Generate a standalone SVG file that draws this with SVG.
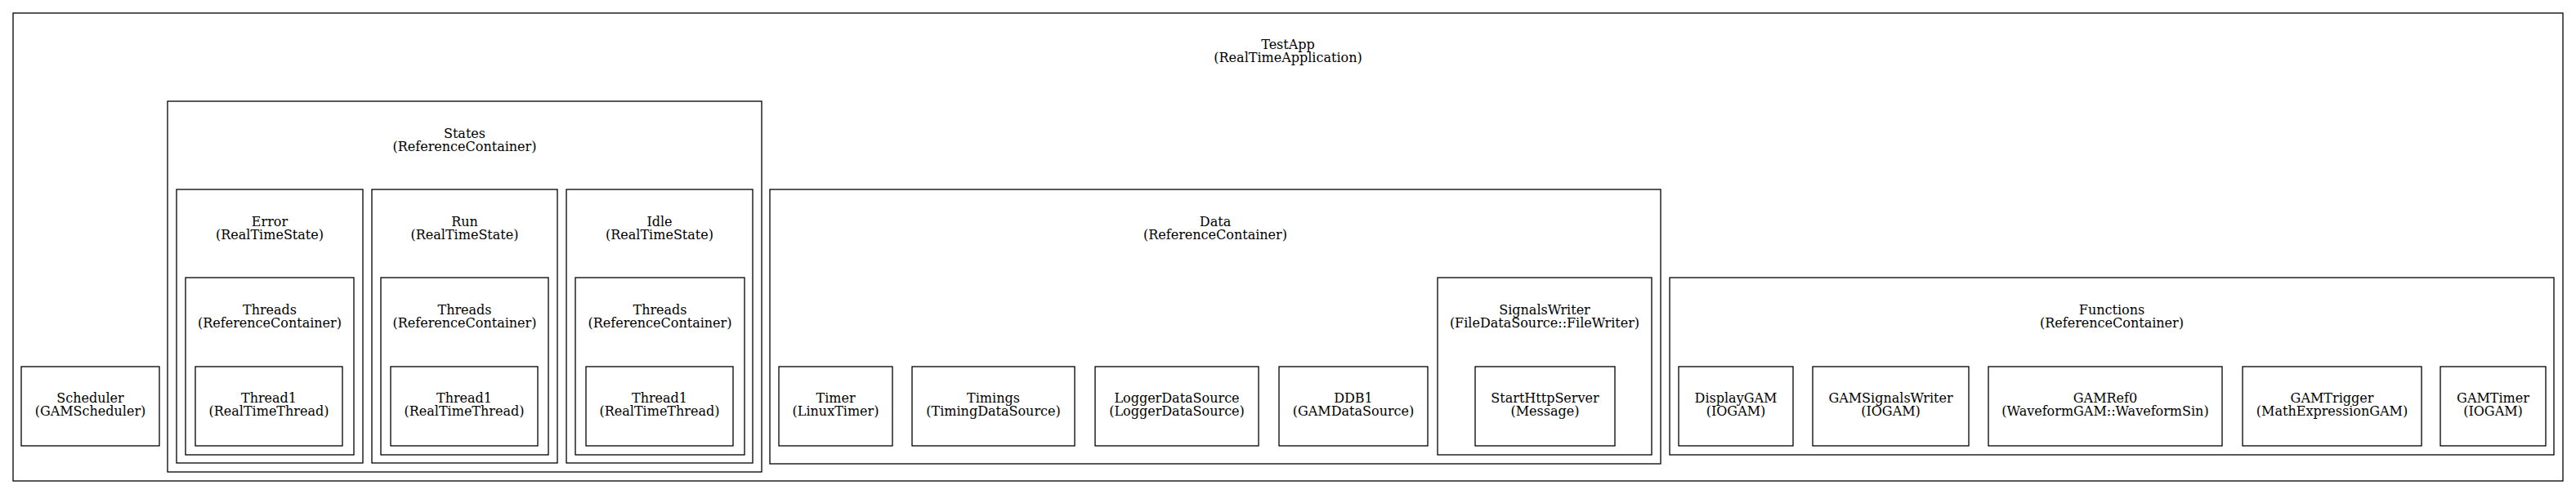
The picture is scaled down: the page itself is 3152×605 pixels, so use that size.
<svg xmlns="http://www.w3.org/2000/svg" width="3152" height="605" viewBox="0 0 3152 605">
<style>
rect{fill:none;stroke:#000;stroke-width:1.3}
text{font-family:"DejaVu Serif","Liberation Serif",serif;font-size:16px;fill:#000;text-anchor:middle}
</style>
<rect x="0" y="0" width="3152" height="605" style="fill:#fff;stroke:none"/>
<g id="TestApp">
<rect x="16" y="16" width="3120" height="573"/>
<text x="1576" y="60">TestApp</text><text x="1576" y="76">(RealTimeApplication)</text>
</g>
<g id="Scheduler">
<rect x="26" y="449" width="169" height="97"/>
<text x="110.5" y="493">Scheduler</text><text x="110.5" y="509">(GAMScheduler)</text>
</g>
<g id="States">
<rect x="205" y="124" width="727" height="454"/>
<text x="568.5" y="169">States</text><text x="568.5" y="185">(ReferenceContainer)</text>
</g>
<g id="Error">
<rect x="216" y="232" width="228" height="335"/>
<text x="330" y="277">Error</text><text x="330" y="293">(RealTimeState)</text>
</g>
<g id="Error_Threads">
<rect x="227" y="340" width="206" height="217"/>
<text x="330" y="385">Threads</text><text x="330" y="401">(ReferenceContainer)</text>
</g>
<g id="Error_Thread1">
<rect x="239" y="449" width="180" height="97"/>
<text x="329" y="493">Thread1</text><text x="329" y="509">(RealTimeThread)</text>
</g>
<g id="Run">
<rect x="455" y="232" width="227" height="335"/>
<text x="568.5" y="277">Run</text><text x="568.5" y="293">(RealTimeState)</text>
</g>
<g id="Run_Threads">
<rect x="466" y="340" width="205" height="217"/>
<text x="568.5" y="385">Threads</text><text x="568.5" y="401">(ReferenceContainer)</text>
</g>
<g id="Run_Thread1">
<rect x="478" y="449" width="180" height="97"/>
<text x="568" y="493">Thread1</text><text x="568" y="509">(RealTimeThread)</text>
</g>
<g id="Idle">
<rect x="693" y="232" width="228" height="335"/>
<text x="807" y="277">Idle</text><text x="807" y="293">(RealTimeState)</text>
</g>
<g id="Idle_Threads">
<rect x="704" y="340" width="207" height="217"/>
<text x="807.5" y="385">Threads</text><text x="807.5" y="401">(ReferenceContainer)</text>
</g>
<g id="Idle_Thread1">
<rect x="717" y="449" width="180" height="97"/>
<text x="807" y="493">Thread1</text><text x="807" y="509">(RealTimeThread)</text>
</g>
<g id="Data">
<rect x="942" y="232" width="1090" height="336"/>
<text x="1487" y="277">Data</text><text x="1487" y="293">(ReferenceContainer)</text>
</g>
<g id="Timer">
<rect x="953" y="449" width="139" height="97"/>
<text x="1022.5" y="493">Timer</text><text x="1022.5" y="509">(LinuxTimer)</text>
</g>
<g id="Timings">
<rect x="1116" y="449" width="199" height="97"/>
<text x="1215.5" y="493">Timings</text><text x="1215.5" y="509">(TimingDataSource)</text>
</g>
<g id="LoggerDataSource">
<rect x="1340" y="449" width="200" height="97"/>
<text x="1440" y="493">LoggerDataSource</text><text x="1440" y="509">(LoggerDataSource)</text>
</g>
<g id="DDB1">
<rect x="1565" y="449" width="182" height="97"/>
<text x="1656" y="493">DDB1</text><text x="1656" y="509">(GAMDataSource)</text>
</g>
<g id="SignalsWriter">
<rect x="1759" y="340" width="262" height="217"/>
<text x="1890" y="385">SignalsWriter</text><text x="1890" y="401">(FileDataSource::FileWriter)</text>
</g>
<g id="StartHttpServer">
<rect x="1805" y="449" width="171" height="97"/>
<text x="1890.5" y="493">StartHttpServer</text><text x="1890.5" y="509">(Message)</text>
</g>
<g id="Functions">
<rect x="2043" y="340" width="1082" height="217"/>
<text x="2584" y="385">Functions</text><text x="2584" y="401">(ReferenceContainer)</text>
</g>
<g id="DisplayGAM">
<rect x="2054" y="449" width="140" height="97"/>
<text x="2124" y="493">DisplayGAM</text><text x="2124" y="509">(IOGAM)</text>
</g>
<g id="GAMSignalsWriter">
<rect x="2218" y="449" width="191" height="97"/>
<text x="2313.5" y="493">GAMSignalsWriter</text><text x="2313.5" y="509">(IOGAM)</text>
</g>
<g id="GAMRef0">
<rect x="2433" y="449" width="286" height="97"/>
<text x="2576" y="493">GAMRef0</text><text x="2576" y="509">(WaveformGAM::WaveformSin)</text>
</g>
<g id="GAMTrigger">
<rect x="2744" y="449" width="219" height="97"/>
<text x="2853.5" y="493">GAMTrigger</text><text x="2853.5" y="509">(MathExpressionGAM)</text>
</g>
<g id="GAMTimer">
<rect x="2986" y="449" width="129" height="97"/>
<text x="3050.5" y="493">GAMTimer</text><text x="3050.5" y="509">(IOGAM)</text>
</g>
<g id="connectors"/>
</svg>
